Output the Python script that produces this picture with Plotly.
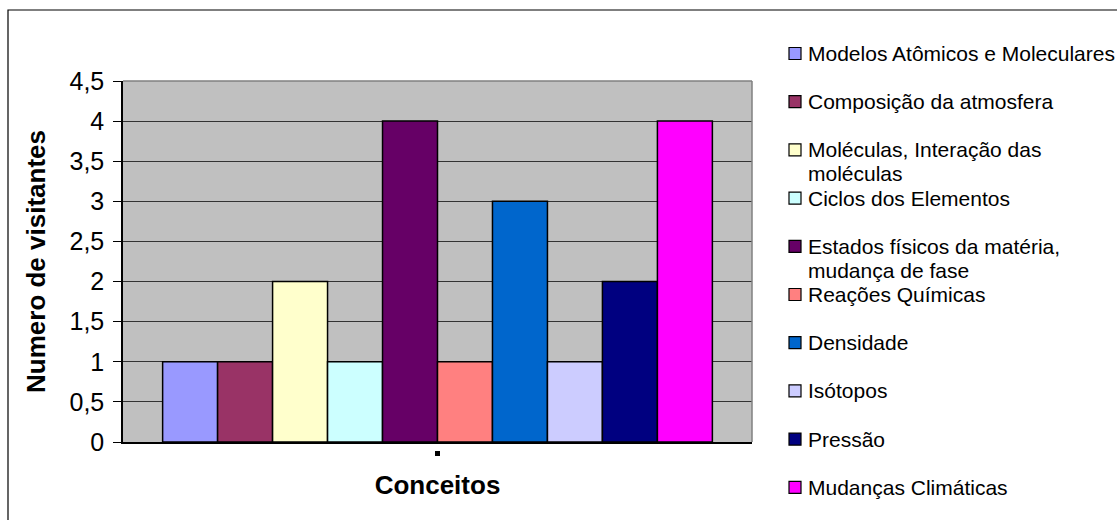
import plotly.graph_objects as go

# Number of visitors per concept
legend_labels = [
    "Modelos Atômicos e Moleculares",
    "Composição da atmosfera",
    "Moléculas, Interação das<br>moléculas",
    "Ciclos dos Elementos",
    "Estados físicos da matéria,<br>mudança de fase",
    "Reações Químicas",
    "Densidade",
    "Isótopos",
    "Pressão",
    "Mudanças Climáticas",
]
visitors = [1, 1, 2, 1, 4, 1, 3, 1, 2, 4]
colors = [
    "#9999FF", "#993366", "#FFFFCC", "#CCFFFF", "#660066",
    "#FF8080", "#0066CC", "#CCCCFF", "#000080", "#FF00FF",
]
category = "Conceitos"
y_ticks = [0, 0.5, 1, 1.5, 2, 2.5, 3, 3.5, 4, 4.5]

W, H = 1117, 520
M_L, M_R, M_T, M_B = 123, 365, 81, 78
PW, PH = W - M_L - M_R, H - M_T - M_B


def px_x(p):
    return (p - M_L) / PW


def px_y(p):
    return (H - M_B - p) / PH


fig = go.Figure()
for name, val, col in zip(legend_labels, visitors, colors):
    fig.add_trace(go.Bar(
        x=[category], y=[val], name=name.replace("<br>", " "),
        marker=dict(color=col, line=dict(color="#000000", width=1.5)),
        showlegend=False,
    ))

font = "Liberation Sans, Arial, sans-serif"

# Legend drawn as swatches + labels on the right side
shapes = []
annotations = []
entry0, step, line_h = 53.5, 48.2, 24
for i, (name, col) in enumerate(zip(legend_labels, colors)):
    cy = entry0 + i * step
    shapes.append(dict(
        type="rect", xref="paper", yref="paper",
        x0=px_x(789), x1=px_x(801), y0=px_y(cy + 6), y1=px_y(cy - 6),
        fillcolor=col, line=dict(color="#000000", width=1.2), layer="above",
    ))
    for k, line in enumerate(name.split("<br>")):
        annotations.append(dict(
            xref="paper", yref="paper", x=px_x(806), y=px_y(cy + k * line_h),
            xanchor="left", yanchor="middle", showarrow=False, text=line,
            font=dict(family=font, size=21, color="#000000"),
        ))

# Plot area edges (top and right) in gray
shapes.append(dict(type="line", xref="paper", yref="paper", x0=0, x1=1, y0=1, y1=1,
                   line=dict(color="#808080", width=1.5), layer="above"))
shapes.append(dict(type="line", xref="paper", yref="paper", x0=1, x1=1, y0=0, y1=1,
                   line=dict(color="#808080", width=1.5), layer="above"))
# Category tick mark below the axis
shapes.append(dict(type="rect", xref="x", yref="paper",
                   x0=-0.004, x1=0.004, y0=px_y(456), y1=px_y(451),
                   fillcolor="#000000", line=dict(width=0)))
# Chart border
shapes.append(dict(type="rect", xref="paper", yref="paper",
                   x0=px_x(8), x1=px_x(1130), y0=px_y(530), y1=px_y(10),
                   line=dict(color="#000000", width=1.2), fillcolor="rgba(0,0,0,0)"))

fig.update_layout(
    width=W, height=H, autosize=False,
    margin=dict(l=M_L, r=M_R, t=M_T, b=M_B),
    paper_bgcolor="#FFFFFF", plot_bgcolor="#C0C0C0",
    barmode="group", bargap=0.126, bargroupgap=0,
    separators=",.",
    font=dict(family=font, color="#000000"),
    shapes=shapes, annotations=annotations,
    xaxis=dict(
        type="category", showticklabels=False, ticks="", showgrid=False,
        showline=True, linecolor="#000000", linewidth=1.5,
        title=dict(text="<b>Conceitos</b>", font=dict(family=font, size=26), standoff=33),
    ),
    yaxis=dict(
        range=[0, 4.5], tickvals=y_ticks, ticks="outside", ticklen=8,
        tickcolor="#000000", tickfont=dict(family=font, size=25),
        ticklabelstandoff=4,
        showline=True, linecolor="#000000", linewidth=1.5,
        showgrid=True, gridcolor="#333333", gridwidth=1, zeroline=False,
        title=dict(text="<b>Numero de visitantes</b>", font=dict(family=font, size=26), standoff=16),
    ),
)

fig.write_html("out.html")
